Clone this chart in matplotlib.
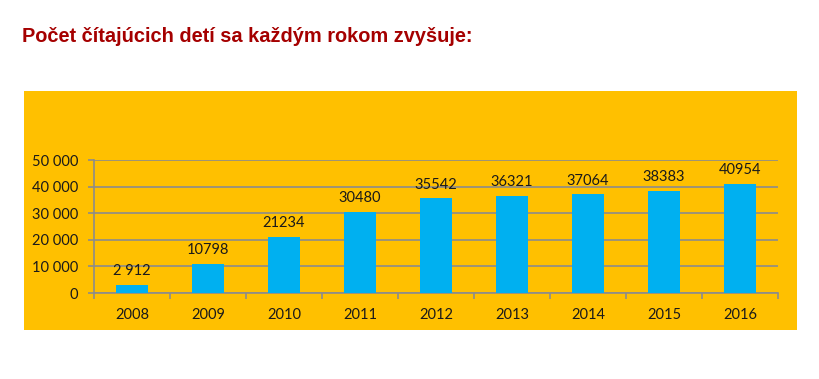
import matplotlib.pyplot as plt
from matplotlib.ticker import FuncFormatter

# Data
roky = ["2008", "2009", "2010", "2011", "2012", "2013", "2014", "2015", "2016"]
pocty = [2912, 10798, 21234, 30480, 35542, 36321, 37064, 38383, 40954]
popisky = ["2 912", "10798", "21234", "30480", "35542", "36321", "37064", "38383", "40954"]

oranzova = "#FFC000"
modra = "#00B0F0"
seda = "#8C8C8C"

fig = plt.figure(figsize=(8.2, 3.79), dpi=100)
fig.patch.set_facecolor("white")

# Oranzove pozadie grafu (samostatne axes v pozadi)
bg = fig.add_axes([0.0293, 0.1293, 0.9427, 0.6306], zorder=0)
bg.set_facecolor(oranzova)
bg.set_xticks([])
bg.set_yticks([])
for s in bg.spines.values():
    s.set_visible(False)

fig.text(0.027, 0.905, "Počet čítajúcich detí sa každým rokom zvyšuje:",
         fontsize=14.4, fontweight="bold", color="#A50000",
         family="Liberation Sans", va="center")

ax = fig.add_axes([0.1146, 0.2269, 0.8342, 0.3509], zorder=1)
ax.set_facecolor("none")

x = range(len(roky))
ax.bar(x, pocty, width=0.41, color=modra, zorder=3)

for i, (v, t) in enumerate(zip(pocty, popisky)):
    ax.text(i, v + 2600, t, ha="center", va="bottom", fontsize=10.5,
            family="Lato", color="#1a1a1a")

ax.set_xlim(-0.5, len(roky) - 0.5)
ax.set_ylim(0, 50000)
ax.set_yticks(range(0, 50001, 10000))
ax.yaxis.set_major_formatter(FuncFormatter(lambda v, p: f"{int(v):,}".replace(",", " ")))
ax.grid(axis="y", color=seda, linewidth=1.2, zorder=1)

ax.set_xticks(list(x))
ax.set_xticklabels(roky)
ax.set_xticks([i + 0.5 for i in range(-1, len(roky))], minor=True)
ax.tick_params(axis="x", which="major", length=0, pad=11)
ax.tick_params(axis="x", which="minor", length=4.5, color=seda, width=1.2)
ax.tick_params(axis="y", length=4.5, color=seda, width=1.2, pad=7)
for lab in ax.get_xticklabels() + ax.get_yticklabels():
    lab.set_family("Lato")
    lab.set_fontsize(10.5)
    lab.set_color("#1a1a1a")

for s in ["top", "right"]:
    ax.spines[s].set_visible(False)
for s in ["left", "bottom"]:
    ax.spines[s].set_color(seda)
    ax.spines[s].set_linewidth(1.2)

fig.savefig("out.png", dpi=100)
